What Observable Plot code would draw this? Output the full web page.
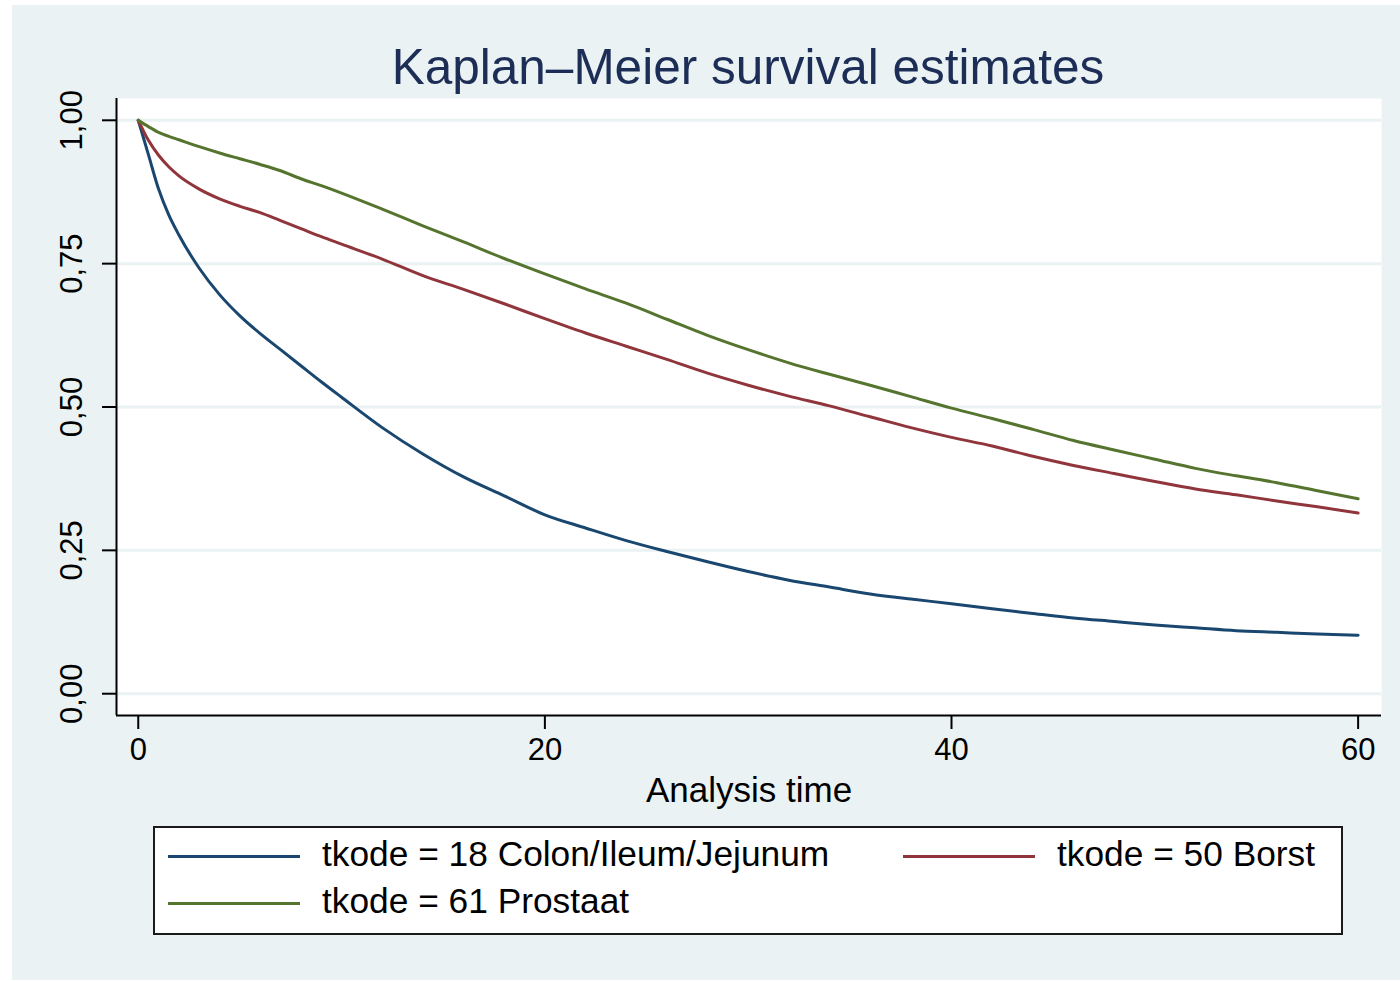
<!DOCTYPE html>
<html>
<head>
<meta charset="utf-8">
<script src="https://cdn.jsdelivr.net/npm/d3@7"></script>
<script src="https://cdn.jsdelivr.net/npm/@observablehq/plot@0.6"></script>
<style>
  html, body { margin: 0; padding: 0; background: #ffffff; }
  #page { position: relative; width: 1400px; height: 981px; overflow: hidden; font-family: "Liberation Sans", Arial, sans-serif; }
  #bg { position: absolute; left: 12px; top: 5px; width: 1388px; height: 975px; background: #eaf2f3; }
  #chart { position: absolute; left: 0; top: 0; }
  #title { position: absolute; left: 0; width: 1496px; top: 42px; text-align: center; font-size: 49.5px; line-height: 50px; color: #1c2d56; white-space: nowrap; }
  #legend { position: absolute; left: 153px; top: 826px; width: 1190px; height: 109px; box-sizing: border-box; border: 2px solid #1a1a1a; background: #ffffff; }
  .lkey { position: absolute; height: 3px; width: 132px; }
  .ltext { position: absolute; font-size: 35.3px; line-height: 35px; color: #000; white-space: nowrap; }
</style>
</head>
<body>
<div id="page">
  <div id="bg"></div>
  <div id="chart"></div>
  <div id="title"></div>
  <div id="legend"></div>
</div>
<script>
// ---- data ----
const titleText = "Kaplan\u2013Meier survival estimates";
const xTitle = "Analysis time";
const times = [0, 0.5, 1, 1.5, 2, 3, 4, 5, 6, 7, 8, 9, 10, 12, 14, 16, 18, 20, 22, 24, 26, 28, 30, 32, 34, 36, 38, 40, 42, 44, 46, 48, 50, 52, 54, 56, 58, 60];
const colon = [1.000, 0.940, 0.880, 0.835, 0.800, 0.742, 0.696, 0.659, 0.628, 0.600, 0.572, 0.544, 0.517, 0.464, 0.418, 0.378, 0.345, 0.312, 0.289, 0.267, 0.248, 0.230, 0.213, 0.198, 0.186, 0.174, 0.165, 0.157, 0.148, 0.140, 0.132, 0.126, 0.120, 0.115, 0.110, 0.107, 0.104, 0.102];
const borst = [1.000, 0.965, 0.939, 0.919, 0.903, 0.880, 0.863, 0.850, 0.839, 0.825, 0.811, 0.797, 0.784, 0.758, 0.729, 0.705, 0.680, 0.654, 0.629, 0.606, 0.583, 0.559, 0.538, 0.519, 0.502, 0.483, 0.464, 0.447, 0.432, 0.414, 0.398, 0.384, 0.370, 0.357, 0.347, 0.336, 0.326, 0.315];
const prostaat = [1.000, 0.989, 0.979, 0.972, 0.966, 0.954, 0.943, 0.933, 0.923, 0.912, 0.898, 0.886, 0.873, 0.845, 0.816, 0.788, 0.759, 0.732, 0.706, 0.681, 0.653, 0.625, 0.600, 0.577, 0.557, 0.538, 0.518, 0.498, 0.480, 0.461, 0.4415, 0.425, 0.409, 0.393, 0.380, 0.368, 0.354, 0.340];
const seriesNames = ["tkode = 18 Colon/Ileum/Jejunum", "tkode = 50 Borst", "tkode = 61 Prostaat"];
const seriesColors = ["#1a476f", "#90353b", "#55752f"];
const xTicks = [0, 20, 40, 60];
const yTicks = [0, 0.25, 0.5, 0.75, 1];
const yTickLabels = ["0,00", "0,25", "0,50", "0,75", "1,00"];

// ---- build table ----
const seriesValues = [colon, borst, prostaat];
const rows = [];
seriesValues.forEach((vals, i) => vals.forEach((v, j) => rows.push({t: times[j], s: v, g: seriesNames[i]})));

const xDom = [-1.07, 61.15];
const yDom = [-0.038, 1.038];
const gridColor = "#eaf2f3";

const chart = Plot.plot({
  width: 1400,
  height: 981,
  marginLeft: 116,
  marginRight: 19,
  marginTop: 98,
  marginBottom: 266,
  style: {background: "transparent", fontFamily: "Liberation Sans, Arial, sans-serif", fontSize: "31px", color: "#000"},
  x: {domain: xDom},
  y: {domain: yDom},
  color: {domain: seriesNames, range: seriesColors},
  marks: [
    Plot.frame({fill: "white", stroke: "none"}),
    Plot.ruleY(yTicks, {stroke: gridColor, strokeWidth: 3}),
    Plot.line(rows, {x: "t", y: "s", stroke: "g", z: "g", strokeWidth: 3, curve: "monotone-x"}),
    Plot.ruleX([xDom[0]], {stroke: "#000", strokeWidth: 2}),
    Plot.ruleY([yDom[0]], {stroke: "#000", strokeWidth: 2}),
    Plot.axisX(xTicks, {tickSize: 14, tickPadding: 8, fontSize: 31, strokeWidth: 2, label: null}),
    Plot.axisY(yTicks, {tickSize: 14, tickFormat: () => "", strokeWidth: 2, label: null}),
    Plot.text(yTicks, {y: d => d, text: (d, i) => yTickLabels[i], frameAnchor: "left", dx: -44, rotate: -90, textAnchor: "middle", lineAnchor: "middle", fontSize: 31, fill: "#000"}),
    Plot.text([xTitle], {text: d => d, frameAnchor: "bottom", dy: 75, lineAnchor: "middle", textAnchor: "middle", fontSize: 35, fill: "#000"})
  ]
});
document.getElementById("chart").appendChild(chart);

document.getElementById("title").textContent = titleText;

// ---- legend ----
const page = document.getElementById("page");
const legendPos = [
  {lx: 168, ly: 856, tx: 322, ty: 836},
  {lx: 903, ly: 856, tx: 1057, ty: 836},
  {lx: 168, ly: 903, tx: 322, ty: 883}
];
seriesNames.forEach((name, i) => {
  const p = legendPos[i];
  const k = document.createElement("div");
  k.className = "lkey";
  k.style.left = p.lx + "px";
  k.style.top = (p.ly - 1.5) + "px";
  k.style.background = seriesColors[i];
  page.appendChild(k);
  const t = document.createElement("div");
  t.className = "ltext";
  t.style.left = p.tx + "px";
  t.style.top = p.ty + "px";
  t.textContent = name;
  page.appendChild(t);
});
</script>
</body>
</html>
